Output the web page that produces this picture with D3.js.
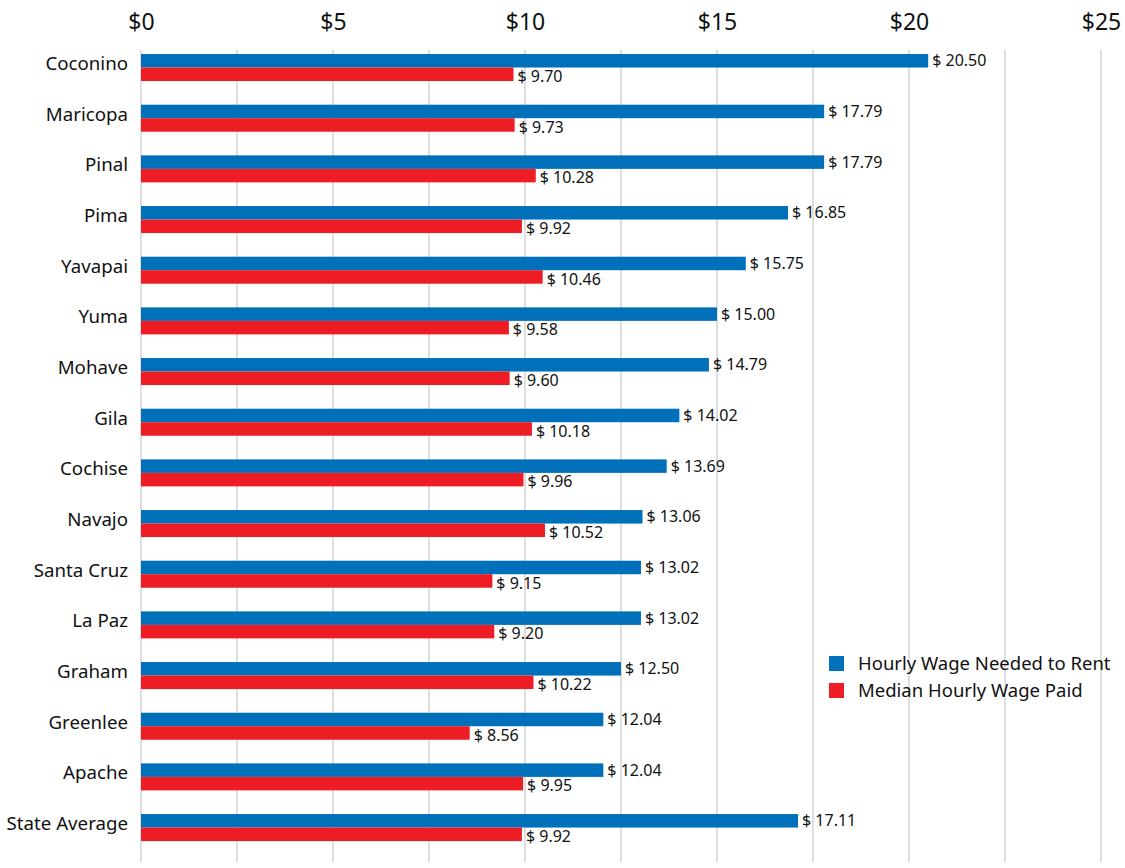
<!DOCTYPE html>
<html>
<head>
<meta charset="utf-8">
<script src="https://cdn.jsdelivr.net/npm/d3@7"></script>
<style>
  html, body { margin: 0; padding: 0; background: #fff; }
  svg { display: block; font-family: "Noto Sans", "Open Sans", sans-serif; }
</style>
</head>
<body>
<svg id="chart" width="1125" height="868"></svg>
<script>
const counties = ["Coconino","Maricopa","Pinal","Pima","Yavapai","Yuma","Mohave","Gila","Cochise","Navajo","Santa Cruz","La Paz","Graham","Greenlee","Apache","State Average"];
const wageNeeded = [20.50,17.79,17.79,16.85,15.75,15.00,14.79,14.02,13.69,13.06,13.02,13.02,12.50,12.04,12.04,17.11];
const wagePaid = [9.70,9.73,10.28,9.92,10.46,9.58,9.60,10.18,9.96,10.52,9.15,9.20,10.22,8.56,9.95,9.92];
const seriesNames = ["Hourly Wage Needed to Rent","Median Hourly Wage Paid"];
const tickValues = [0,5,10,15,20,25];
const gridValues = [0,2.5,5,7.5,10,12.5,15,17.5,20,22.5,25];

const colors = ["#0070BB","#EE1C25"];
const svg = d3.select("#chart");

const x = d3.scaleLinear().domain([0,25]).range([141,1101]);
const y = d3.scaleBand().domain(counties).range([42.2,852.9]).paddingInner(0.467).paddingOuter(0.2335);
const sub = d3.scaleBand().domain([0,1]).range([0,y.bandwidth()]);

// gridlines
svg.append("g").selectAll("line").data(gridValues).join("line")
  .attr("x1", d => x(d)).attr("x2", d => x(d))
  .attr("y1", 50).attr("y2", 862)
  .attr("stroke", "#d4d4d4").attr("stroke-width", 1.5);

// top axis
const axis = d3.axisTop(x).tickValues(tickValues).tickFormat(d => "$" + d).tickSize(0).tickPadding(0);
const ag = svg.append("g").attr("transform", "translate(0,30)").call(axis);
ag.select(".domain").remove();
ag.selectAll("text").attr("font-size", 23).attr("fill", "#111").attr("font-family", "\"Noto Sans\", sans-serif").attr("dy", 0);

// category labels
const yAxis = d3.axisLeft(y).tickSize(0).tickPadding(0);
const yg = svg.append("g").attr("transform", "translate(128,-4)").call(yAxis);
yg.select(".domain").remove();
yg.selectAll("text").attr("font-size", 18.7).attr("fill", "#111").attr("font-family", "\"Noto Sans\", sans-serif").attr("dy", "0.35em");

const rows = counties.map((c, i) => ({county: c, vals: [wageNeeded[i], wagePaid[i]]}));
const g = svg.append("g").selectAll("g").data(rows).join("g")
  .attr("transform", d => `translate(0,${y(d.county)})`);

g.selectAll("rect").data(d => d.vals).join("rect")
  .attr("x", x(0))
  .attr("y", (d, i) => sub(i))
  .attr("width", d => x(d) - x(0))
  .attr("height", sub.bandwidth())
  .attr("fill", (d, i) => colors[i]);

g.selectAll("text.val").data(d => d.vals).join("text")
  .attr("class", "val")
  .attr("x", d => x(d) + 4)
  .attr("y", (d, i) => sub(i) + sub.bandwidth() / 2 + (i === 1 ? 2 : 0))
  .attr("dy", "0.35em")
  .attr("font-size", 16)
  .attr("fill", "#111")
  .text(d => "$ " + d.toFixed(2));

// legend
const lg = svg.append("g").attr("transform", "translate(829,656)");
const li = lg.selectAll("g").data(seriesNames).join("g")
  .attr("transform", (d, i) => `translate(0,${i * 27})`);
li.append("rect").attr("width", 15).attr("height", 15).attr("fill", (d, i) => colors[i]);
li.append("text").attr("x", 29).attr("y", 7.5).attr("dy", "0.35em")
  .attr("font-size", 18.5).attr("fill", "#111").text(d => d);
</script>
</body>
</html>
